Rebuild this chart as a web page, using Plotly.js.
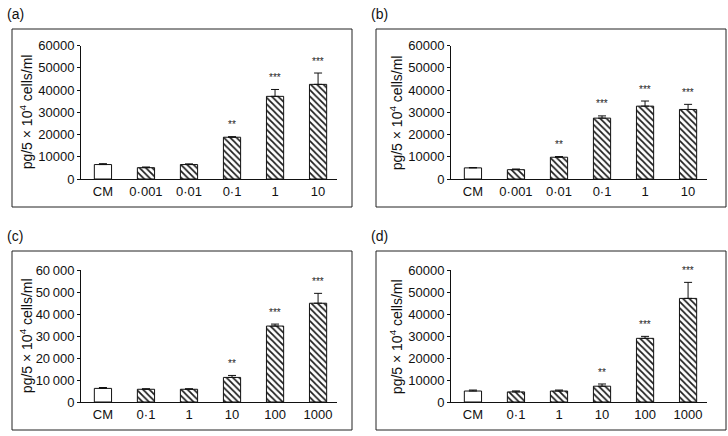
<!DOCTYPE html>
<html>
<head>
<meta charset="utf-8">
<script src="https://cdn.plot.ly/plotly-3.0.1.min.js"></script>
<style>
  body { margin: 0; background: #fff; }
  #chart { width: 728px; height: 436px; }
</style>
</head>
<body>
<div id="chart"></div>
<script>
// categories
const catsAB = ['CM', '0·001', '0·01', '0·1', '1', '10'];
const catsCD = ['CM', '0·1', '1', '10', '100', '1000'];

// means and upper SEM
const meanA = [6500, 5100, 6500, 18800, 37200, 42600];
const errA = [400, 300, 300, 250, 3100, 5100];
const sigA = ['', '', '', '**', '***', '***'];

const meanB = [5000, 4200, 9800, 27400, 32800, 31300];
const errB = [150, 300, 300, 1000, 2300, 2300];
const sigB = ['', '', '**', '***', '***', '***'];

const meanC = [6200, 5800, 5800, 11200, 34600, 45000];
const errC = [400, 250, 250, 900, 900, 4500];
const sigC = ['', '', '', '**', '***', '***'];

const meanD = [5000, 4600, 5000, 7200, 29000, 47200];
const errD = [450, 450, 450, 1000, 900, 7300];
const sigD = ['', '', '', '**', '***', '***'];

const yTickVals = [0, 10000, 20000, 30000, 40000, 50000, 60000];
const yTickText = ['0', '10000', '20000', '30000', '40000', '50000', '60000'];
const yTickTextC = ['0', '10\u2009000', '20\u2009000', '30\u2009000', '40\u2009000', '50\u2009000', '60\u2009000'];

const panelLabels = ['(a)', '(b)', '(c)', '(d)'];

const W = 728, H = 436;
const FONT = 'Liberation Sans, Arial, sans-serif';

const panels = [
  { cats: catsAB, mean: meanA, err: errA, sig: sigA, ticks: yTickText, ax: '', x0: 81, x1: 337, yTop: 45.7, yZero: 179, box: [12, 29, 352, 207], lab: [5, 14] },
  { cats: catsAB, mean: meanB, err: errB, sig: sigB, ticks: yTickText, ax: '2', x0: 451, x1: 707, yTop: 45.7, yZero: 179, box: [376, 29, 726, 207], lab: [369, 14] },
  { cats: catsCD, mean: meanC, err: errC, sig: sigC, ticks: yTickTextC, ax: '3', x0: 81, x1: 337, yTop: 270.3, yZero: 402, box: [12, 251, 352, 430], lab: [5, 236] },
  { cats: catsCD, mean: meanD, err: errD, sig: sigD, ticks: yTickText, ax: '4', x0: 451, x1: 707, yTop: 270.3, yZero: 402, box: [376, 251, 726, 430], lab: [369, 236] }
];

let traces = [];
let layout = {
  width: W, height: H,
  margin: { l: 0, r: 0, t: 0, b: 0 },
  paper_bgcolor: '#fff',
  plot_bgcolor: 'rgba(0,0,0,0)',
  showlegend: false,
  bargap: 0.6,
  font: { family: FONT, size: 13, color: '#111' },
  shapes: [],
  annotations: []
};

panels.forEach((p, i) => {
  let xa = 'x' + p.ax, ya = 'y' + p.ax;
  let patternShapes = p.cats.map((c, j) => j === 0 ? '' : '\\');
  traces.push({
    type: 'bar',
    x: p.cats,
    y: p.mean,
    xaxis: xa, yaxis: ya,
    marker: {
      color: '#fff',
      line: { color: '#111', width: 1 },
      pattern: { shape: patternShapes, fgcolor: '#1a1a1a', bgcolor: '#fff', size: 4.5, solidity: 0.38 }
    },
    error_y: {
      type: 'data', symmetric: false,
      array: p.err,
      arrayminus: p.err.map(() => 0),
      color: '#111', thickness: 1, width: 4
    },
    hoverinfo: 'skip'
  });

  layout['xaxis' + p.ax] = {
    domain: [p.x0 / W, p.x1 / W],
    anchor: ya,
    type: 'category',
    range: [-0.51, 5.44],
    showline: true, linecolor: '#111', linewidth: 1,
    ticks: '', showgrid: false, zeroline: false,
    tickfont: { family: FONT, size: 13, color: '#111' },
    fixedrange: true
  };
  layout['yaxis' + p.ax] = {
    domain: [(H - p.yZero) / H, (H - p.yTop) / H],
    anchor: xa,
    range: [0, 60000],
    tickvals: yTickVals,
    ticktext: p.ticks,
    showline: true, linecolor: '#111', linewidth: 1,
    ticks: 'outside', ticklen: 3, tickcolor: '#111',
    showgrid: false, zeroline: false,
    tickfont: { family: FONT, size: 13, color: '#111' },
    fixedrange: true
  };

  // outer frame
  layout.shapes.push({
    type: 'rect', xref: 'paper', yref: 'paper',
    x0: p.box[0] / W, x1: p.box[2] / W,
    y0: (H - p.box[3]) / H, y1: (H - p.box[1]) / H,
    line: { color: '#222', width: 1 }
  });

  // panel letter
  layout.annotations.push({
    xref: 'paper', yref: 'paper',
    x: p.lab[0] / W, y: (H - p.lab[1]) / H,
    xanchor: 'left', yanchor: 'middle',
    text: panelLabels[i], showarrow: false,
    font: { family: FONT, size: 14, color: '#111' }
  });

  // y title
  layout.annotations.push({
    xref: 'paper', yref: 'paper',
    x: (p.x0 - 55) / W, y: (H - (p.yZero + p.yTop) / 2) / H,
    xanchor: 'center', yanchor: 'middle', textangle: -90,
    text: 'pg/5 × 10<sup>4</sup> cells/ml', showarrow: false,
    font: { family: FONT, size: 14, color: '#111' }
  });

  // significance stars (x given as category index)
  p.sig.forEach((s, j) => {
    if (!s) return;
    layout.annotations.push({
      xref: xa, yref: ya,
      x: j, y: p.mean[j] + p.err[j],
      yshift: 12, xanchor: 'center', yanchor: 'middle',
      text: s, showarrow: false,
      font: { family: FONT, size: 10, color: '#222' }
    });
  });
});

Plotly.newPlot('chart', traces, layout, { staticPlot: true, displayModeBar: false });
</script>
</body>
</html>
